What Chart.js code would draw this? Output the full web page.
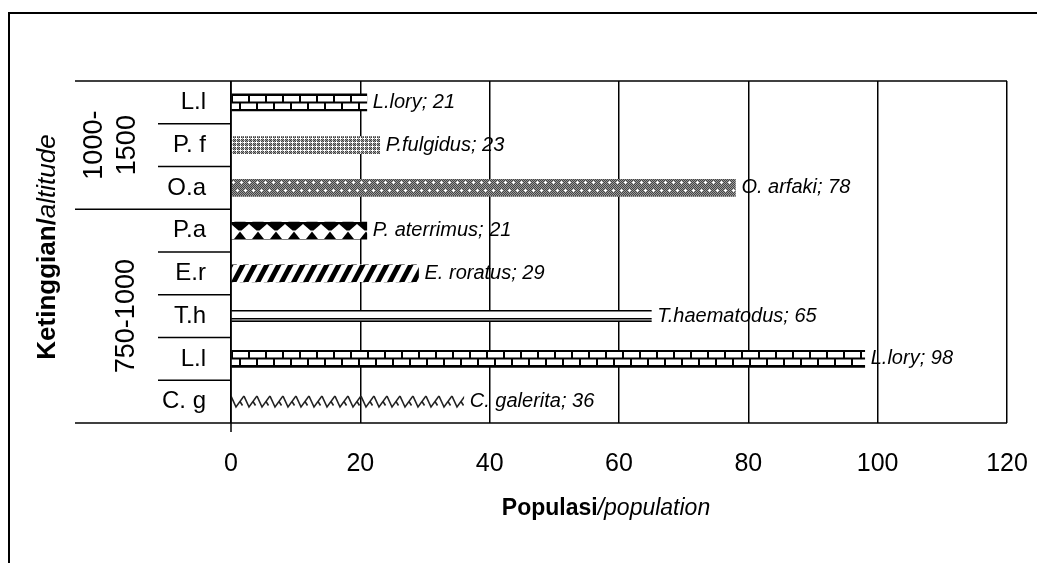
<!DOCTYPE html>
<html>
<head>
<meta charset="utf-8">
<script src="https://cdn.jsdelivr.net/npm/chart.js@4.4.1/dist/chart.umd.min.js"></script>
<style>
    html, body { margin: 0; padding: 0; background: #fff; }
    canvas { display: block; }
</style>
</head>
<body>
<canvas id="chartCanvas" width="1037" height="563"></canvas>
<script>
const categories = ['L.l', 'P. f', 'O.a', 'P.a', 'E.r', 'T.h', 'L.l', 'C. g'];
const population = [21, 23, 78, 21, 29, 65, 98, 36];
const speciesNames = ['L.lory', 'P.fulgidus', 'O. arfaki', 'P. aterrimus', 'E. roratus', 'T.haematodus', 'L.lory', 'C. galerita'];
const altitudeLabels = [['1000-', '1500'], ['750-1000']];
const altitudeSpans = [3, 5];
const xMin = 0, xMax = 120, xStep = 20;
const patternKinds = ['brick', 'fineCheck', 'darkCheck', 'hourglass', 'stripes', 'lines', 'brick', 'zigzag'];

const FONT = "'Liberation Sans', Arial, sans-serif";

const makePattern = (kind) => {
    const c = document.createElement('canvas');
    const g = c.getContext('2d');
    const H = 17;
    c.height = H;
    if (kind === 'brick') {
        c.width = 17;
        g.fillStyle = '#fff';
        g.fillRect(0, 0, 17, H);
        g.fillStyle = '#000';
        g.fillRect(0, 0, 17, 2);
        g.fillRect(0, 7.5, 17, 2);
        g.fillRect(0, 15, 17, 2);
        g.fillRect(0, 0, 2, 9);
        g.fillRect(8, 8, 2, 9);
    } else if (kind === 'fineCheck') {
        c.width = 4;
        const map = ['dwdg', 'wwwg', 'dwdg', 'gggd'];
        const cols = { d: '#3c3c3c', w: '#ffffff', g: '#9a9a9a' };
        for (let y = 0; y < H; y++) {
            map[y % 4].split('').forEach((ch, x) => {
                g.fillStyle = cols[ch];
                g.fillRect(x, y, 1, 1);
            });
        }
    } else if (kind === 'darkCheck') {
        c.width = 8;
        for (let y = 0; y < H; y++) {
            for (let x = 0; x < 8; x++) {
                g.fillStyle = (x + y) % 2 ? '#9a9a9a' : '#454545';
                g.fillRect(x, y, 1, 1);
            }
        }
        g.fillStyle = '#fff';
        [[2, 3], [6, 11]].forEach(([cx, cy]) => {
            g.fillRect(cx - 1, cy, 3, 1);
            g.fillRect(cx, cy - 1, 1, 3);
        });
    } else if (kind === 'hourglass') {
        c.width = 18;
        g.fillStyle = '#fff';
        g.fillRect(0, 0, 18, H);
        g.fillStyle = '#000';
        g.beginPath();
        g.moveTo(0, 0); g.lineTo(18, 0); g.lineTo(18, 2); g.lineTo(10.5, 8.5);
        g.lineTo(7.5, 8.5); g.lineTo(0, 2); g.closePath(); g.fill();
        g.beginPath();
        g.moveTo(9, 9.5); g.lineTo(15, 17); g.lineTo(3, 17); g.closePath(); g.fill();
    } else if (kind === 'stripes') {
        c.width = 12;
        g.fillStyle = '#fff';
        g.fillRect(0, 0, 12, H);
        g.fillStyle = '#000';
        [-12, 0, 12].forEach(off => {
            g.beginPath();
            g.moveTo(off, 17); g.lineTo(off + 5.5, 17); g.lineTo(off + 14.5, 0); g.lineTo(off + 9, 0);
            g.closePath(); g.fill();
        });
    } else if (kind === 'lines') {
        c.width = 4;
        g.fillStyle = '#fff';
        g.fillRect(0, 2, 4, 12);
        g.fillStyle = '#000';
        g.fillRect(0, 2, 4, 1.5);
        g.fillRect(0, 10, 4, 1.5);
        g.fillStyle = '#888';
        g.fillRect(0, 11.5, 4, 1);
        g.fillStyle = '#000';
        g.fillRect(0, 12.5, 4, 1.5);
    } else if (kind === 'zigzag') {
        c.width = 13;
        g.strokeStyle = '#222';
        g.lineWidth = 1.6;
        g.beginPath();
        g.moveTo(0, 3); g.lineTo(5, 14); g.lineTo(13, 3);
        g.moveTo(9, 8.5); g.lineTo(11.5, 12.5);
        g.stroke();
    }
    return g.createPattern(c, 'repeat');
};

const patterns = patternKinds.map(makePattern);

const drawMixed = (ctx, parts, x, y) => {
    // parts: [[text, font], ...], drawn centred on x
    const widths = parts.map(([t, f]) => { ctx.font = f; return ctx.measureText(t).width; });
    let cx = x - widths.reduce((a, b) => a + b, 0) / 2;
    parts.forEach(([t, f], i) => {
        ctx.font = f;
        ctx.fillText(t, cx, y);
        cx += widths[i];
    });
};

const decorations = {
    id: 'decorations',
    beforeDraw(chart) {
        const ctx = chart.ctx;
        const meta = chart.getDatasetMeta(0);
        ctx.save();
        ctx.fillStyle = '#000';
        ctx.font = `italic 20px ${FONT}`;
        ctx.textBaseline = 'middle';
        ctx.textAlign = 'left';
        meta.data.forEach((bar, i) => {
            ctx.fillText(`${speciesNames[i]}; ${population[i]}`, bar.x + 6, bar.y);
        });
        ctx.restore();
    },
    beforeDatasetsDraw(chart) {
        const meta = chart.getDatasetMeta(0);
        meta.data.forEach((bar, i) => {
            patterns[i].setTransform(new DOMMatrix().translate(chart.chartArea.left, Math.round(bar.y - bar.height / 2)));
        });
    },
    afterDraw(chart) {
        const ctx = chart.ctx;
        const area = chart.chartArea;
        const ys = chart.scales.y;
        ctx.save();
        ctx.strokeStyle = '#000';

        // outer frame
        ctx.lineWidth = 2;
        ctx.strokeRect(9, 13, 1100, 700);

        ctx.lineWidth = 1.5;
        const line = (x1, y1, x2, y2) => {
            ctx.beginPath(); ctx.moveTo(x1, y1); ctx.lineTo(x2, y2); ctx.stroke();
        };
        line(75, area.top, area.right, area.top);
        line(75, area.bottom, area.right, area.bottom);
        line(area.left, area.top, area.left, area.bottom + 9);

        // separators between categories and groups
        const groupEnds = [];
        let acc = 0;
        altitudeSpans.forEach(s => { acc += s; groupEnds.push(acc); });
        for (let i = 1; i < categories.length; i++) {
            const y = (ys.getPixelForValue(i - 1) + ys.getPixelForValue(i)) / 2;
            line(groupEnds.includes(i) ? 75 : 158, y, area.left, y);
        }

        // altitude group labels
        ctx.fillStyle = '#000';
        ctx.textAlign = 'center';
        ctx.textBaseline = 'middle';
        ctx.font = `27px ${FONT}`;
        let start = 0;
        altitudeSpans.forEach((span, gi) => {
            const y0 = start === 0 ? area.top : (ys.getPixelForValue(start - 1) + ys.getPixelForValue(start)) / 2;
            const end = start + span;
            const y1 = end >= categories.length ? area.bottom : (ys.getPixelForValue(end - 1) + ys.getPixelForValue(end)) / 2;
            const cy = (y0 + y1) / 2;
            const lines = altitudeLabels[gi];
            const xs = lines.length === 2 ? [95, 128] : [127];
            lines.forEach((t, li) => {
                ctx.save();
                ctx.translate(xs[li], cy);
                ctx.rotate(-Math.PI / 2);
                ctx.fillText(t, 0, 0);
                ctx.restore();
            });
            start = end;
        });

        // axis titles
        ctx.textAlign = 'left';
        ctx.textBaseline = 'alphabetic';
        drawMixed(ctx, [['Populasi', `bold 23px ${FONT}`], ['/population', `italic 23px ${FONT}`]], 606, 515);

        ctx.save();
        ctx.translate(55, 247);
        ctx.rotate(-Math.PI / 2);
        drawMixed(ctx, [['Ketinggian/', `bold 26px ${FONT}`], ['altitude', `italic 26px ${FONT}`]], 0, 0);
        ctx.restore();

        ctx.restore();
    }
};

window.addEventListener('load', () => {
    const ctx = document.getElementById('chartCanvas').getContext('2d');
    new Chart(ctx, {
        type: 'bar',
        data: {
            labels: categories,
            datasets: [{
                data: population,
                backgroundColor: patterns,
                borderWidth: 0,
                barThickness: 17
            }]
        },
        options: {
            indexAxis: 'y',
            responsive: false,
            devicePixelRatio: 1,
            animation: false,
            layout: { padding: { top: 81, right: 30, left: 0, bottom: 0 } },
            plugins: {
                legend: { display: false },
                tooltip: { enabled: false }
            },
            scales: {
                x: {
                    min: xMin,
                    max: xMax,
                    ticks: {
                        stepSize: xStep,
                        color: '#000',
                        padding: 26,
                        font: { family: FONT, size: 25 }
                    },
                    grid: { color: '#000', lineWidth: 1.5, drawTicks: false },
                    border: { display: false },
                    afterFit: (scale) => {
                        scale.height = 140;
                        scale.paddingLeft = 0;
                        scale.paddingRight = 0;
                    }
                },
                y: {
                    ticks: {
                        color: '#000',
                        padding: 25,
                        font: { family: FONT, size: 24 }
                    },
                    grid: { display: false, drawTicks: false },
                    border: { display: false },
                    afterFit: (scale) => { scale.width = 231; }
                }
            }
        },
        plugins: [decorations]
    });
});
</script>
</body>
</html>
